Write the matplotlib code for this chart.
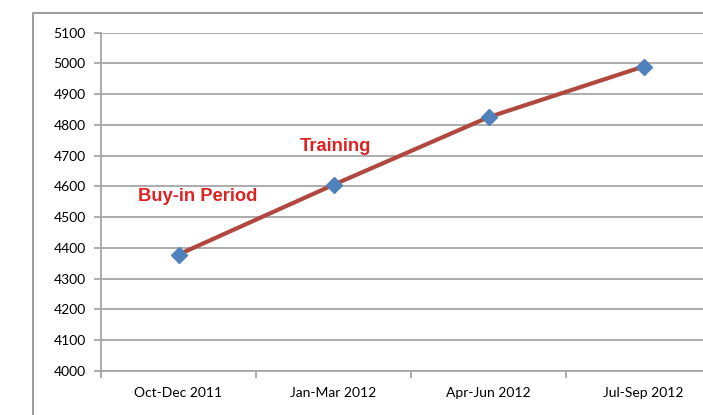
import matplotlib
matplotlib.use("Agg")
import matplotlib.pyplot as plt
from matplotlib.patches import Rectangle

categories = ["Oct-Dec 2011", "Jan-Mar 2012", "Apr-Jun 2012", "Jul-Sep 2012"]
values = [4378, 4605, 4825, 4990]
y_ticks = list(range(4000, 5101, 100))
annotations = [("Buy-in Period", 0.125, 4566), ("Training", 1.01, 4729)]

fig = plt.figure(figsize=(7.03, 4.15), dpi=100)
W, H = 703, 415
ax = fig.add_axes([101 / W, (H - 370.7) / H, 620 / W, 338 / H])

grid_c = "#a6a6a6"
x = list(range(len(categories)))
ax.plot(x, values, color="#b0483f", lw=3, zorder=3)
ax.plot(x, values, ls="none", marker="D", ms=8.5, color="#4f81bd",
        mec="#4f81bd", zorder=4)

ax.set_xlim(-0.5, len(categories) - 0.5)
ax.set_ylim(4000, 5100)
ax.set_yticks(y_ticks)
ax.yaxis.grid(True, color=grid_c, lw=1.3)
ax.set_axisbelow(True)

ax.set_xticks(x)
ax.set_xticklabels(categories)
ax.set_xticks([i - 0.5 for i in range(len(categories) + 1)], minor=True)
ax.tick_params(axis="x", which="major", length=0, pad=12)
ax.tick_params(axis="x", which="minor", length=5, color=grid_c, width=1.3)
ax.tick_params(axis="y", length=5, color=grid_c, width=1.3, pad=6)
for lbl in ax.get_xticklabels() + ax.get_yticklabels():
    lbl.set_fontfamily("Lato")
    lbl.set_fontsize(10)
    lbl.set_color("#000000")

for s in ["top", "right"]:
    ax.spines[s].set_visible(False)
for s in ["left", "bottom"]:
    ax.spines[s].set_color(grid_c)
    ax.spines[s].set_linewidth(1.3)

for txt, tx, ty in annotations:
    ax.text(tx, ty, txt, color="#dd2222", fontsize=13.2, fontweight="bold",
            family="Liberation Sans", ha="center", va="center")

fig.patches.append(Rectangle((33 / W, -0.05), 1.0, (H - 13) / H + 0.05,
                             transform=fig.transFigure, fill=False,
                             edgecolor="#8c8c8c", lw=1.2))

fig.savefig("out.png", dpi=100)
